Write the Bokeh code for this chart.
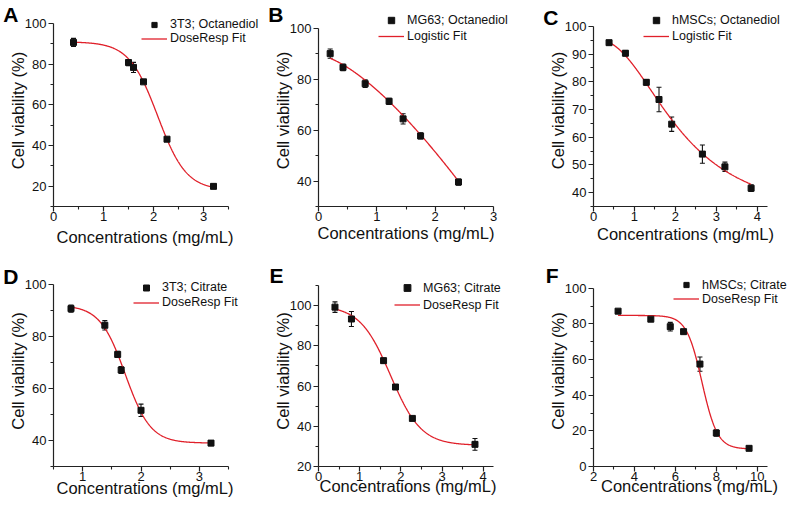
import numpy as np
from bokeh.plotting import figure
from bokeh.layouts import row, column
from bokeh.models import (ColumnDataSource, Whisker, TeeHead, Legend, LegendItem,
                          FixedTicker, Range1d, LinearAxis)
from bokeh.embed import file_html
from bokeh.resources import INLINE

# ---------------- data ----------------
# A: 3T3; Octanediol (DoseResp fit)
a_conc = [0.4, 1.5, 1.6, 1.8, 2.27, 3.2]
a_via = [90.7, 80.8, 78.4, 71.3, 43.1, 19.9]
a_err = [2.0, 1.5, 2.5, 0.8, 0.8, 1.0]
a_fit = dict(top=91.0, bottom=18.0, x0=2.084, hill=1.52)

# B: MG63; Octanediol (Logistic fit)
b_conc = [0.2, 0.42, 0.8, 1.21, 1.45, 1.75, 2.4]
b_via = [90.0, 84.6, 78.2, 71.3, 64.4, 57.7, 39.6]
b_err = [1.8, 1.3, 1.5, 1.2, 2.0, 1.2, 1.2]
b_fit = dict(a1=89.4, a2=-1150.0, x0=20.0, p=1.5)

# C: hMSCs; Octanediol (Logistic fit)
c_conc = [0.38, 0.78, 1.29, 1.6, 1.91, 2.66, 3.21, 3.85]
c_via = [94.1, 90.3, 79.8, 73.6, 64.7, 53.9, 49.3, 41.6]
c_err = [0.8, 1.0, 1.0, 4.4, 2.6, 3.3, 1.7, 1.2]
c_fit = dict(a1=95.5, a2=30.0, x0=2.1, p=2.3)

# D: 3T3; Citrate (DoseResp fit)
d_conc = [0.8, 1.38, 1.6, 1.66, 2.0, 3.2]
d_via = [90.7, 84.3, 73.1, 67.1, 51.6, 39.0]
d_err = [1.4, 1.8, 1.2, 1.3, 2.4, 1.0]
d_fit = dict(top=92.0, bottom=39.0, x0=1.73, hill=2.0)

# E: MG63; Citrate (DoseResp fit)
e_conc = [0.4, 0.8, 1.58, 1.87, 2.28, 3.8]
e_via = [99.2, 93.3, 72.6, 59.5, 43.9, 31.0]
e_err = [2.6, 3.7, 1.2, 1.2, 1.0, 2.9]
e_fit = dict(top=100.0, bottom=30.5, x0=1.75, hill=1.17)

# F: hMSCs; Citrate (DoseResp fit)
f_conc = [3.2, 4.8, 5.75, 6.4, 7.2, 8.0, 9.6]
f_via = [87.2, 82.7, 78.5, 75.7, 57.5, 18.8, 10.2]
f_err = [0.8, 0.8, 2.4, 0.6, 4.0, 1.8, 0.8]
f_fit = dict(top=84.8, bottom=9.8, x0=7.3, hill=1.15)

# axis extents and ticks
a_xb, a_yb = (0, 3.5), (10, 100)
b_xb, b_yb = (0, 3), (30, 100)
c_xb, c_yb = (0, 4.25), (35, 100)
d_xb, d_yb = (0.5, 3.5), (30, 100)
e_xb, e_yb = (0, 4.25), (20, 110)
f_xb, f_yb = (2, 10.5), (0, 100)
a_xticks, a_xminor, a_yticks, a_yminor = [0, 1, 2, 3], [0.5, 1.5, 2.5, 3.5], [20, 40, 60, 80, 100], [10, 30, 50, 70, 90]
b_xticks, b_xminor, b_yticks, b_yminor = [0, 1, 2, 3], [0.5, 1.5, 2.5], [40, 60, 80, 100], [30, 50, 70, 90]
c_xticks, c_xminor, c_yticks, c_yminor = [0, 1, 2, 3, 4], [0.5, 1.5, 2.5, 3.5], [40, 50, 60, 70, 80, 90, 100], [35, 45, 55, 65, 75, 85, 95]
d_xticks, d_xminor, d_yticks, d_yminor = [1, 2, 3], [0.5, 1.5, 2.5, 3.5], [40, 60, 80, 100], [30, 50, 70, 90]
e_xticks, e_xminor, e_yticks, e_yminor = [0, 1, 2, 3, 4], [0.5, 1.5, 2.5, 3.5], [20, 40, 60, 80, 100], [30, 50, 70, 90, 110]
f_xticks, f_xminor, f_yticks, f_yminor = [2, 4, 6, 8, 10], [3, 5, 7, 9], [0, 20, 40, 60, 80, 100], [10, 30, 50, 70, 90]

X_TITLE = "Concentrations (mg/mL)"
Y_TITLE = "Cell viability (%)"
FONT = "Liberation Sans"
RED = "#e0202a"
INK = "#111111"

# page geometry (pixels)
COLS = [(0, 265), (265, 275), (540, 249)]   # (left, width)
ROWS = [(0, 260), (260, 251)]               # (top, height)
BORDER_LEFT = 53


def doseresp(x, top, bottom, x0, hill):
    return bottom + (top - bottom) / (1.0 + 10.0 ** ((x - x0) * hill))


def logistic(x, a1, a2, x0, p):
    return a2 + (a1 - a2) / (1.0 + (x / x0) ** p)


# aw/ah: axis lengths; top: page y of y-axis top; et: frame headroom above it;
# lg: (legend left from y-axis, legend top rel. to y-axis top, row height);
# lu: letter centre above y-axis top; tdx: x-title shift; ts: x-title standoff
panels = [
    dict(letter="A", conc=a_conc, via=a_via, err=a_err, model=doseresp, fit=a_fit,
         series="3T3; Octanediol", fitname="DoseResp Fit", xb=a_xb, yb=a_yb,
         xt=a_xticks, xm=a_xminor, yt=a_yticks, ym=a_yminor, col=0, row=0,
         aw=175, ah=183, top=23, et=9, lg=(88, -6, 13.4), lu=8.7, tdx=4, ts=4),
    dict(letter="B", conc=b_conc, via=b_via, err=b_err, model=logistic, fit=b_fit,
         series="MG63; Octanediol", fitname="Logistic Fit", xb=b_xb, yb=b_yb,
         xt=b_xticks, xm=b_xminor, yt=b_yticks, ym=b_yminor, col=1, row=0,
         aw=175, ah=183, top=27, et=14, lg=(60, -11.4, 16), lu=13.6, tdx=0, ts=0),
    dict(letter="C", conc=c_conc, via=c_via, err=c_err, model=logistic, fit=c_fit,
         series="hMSCs; Octanediol", fitname="Logistic Fit", xb=c_xb, yb=c_yb,
         xt=c_xticks, xm=c_xminor, yt=c_yticks, ym=c_yminor, col=2, row=0,
         aw=174, ah=183, top=23, et=12, lg=(50, -11.2, 15.7), lu=9, tdx=5, ts=1),
    dict(letter="D", conc=d_conc, via=d_via, err=d_err, model=doseresp, fit=d_fit,
         series="3T3; Citrate", fitname="DoseResp Fit", xb=d_xb, yb=d_yb,
         xt=d_xticks, xm=d_xminor, yt=d_yticks, ym=d_yminor, col=0, row=1,
         aw=175, ah=183, top=283, et=9, lg=(80, -3.2, 15), lu=8.2, tdx=4, ts=-5),
    dict(letter="E", conc=e_conc, via=e_via, err=e_err, model=doseresp, fit=e_fit,
         series="MG63; Citrate", fitname="DoseResp Fit", xb=e_xb, yb=e_yb,
         xt=e_xticks, xm=e_xminor, yt=e_yticks, ym=e_yminor, col=1, row=1,
         aw=175, ah=183, top=285, et=10, lg=(76, -4, 16.7), lu=9.9, tdx=2, ts=-7),
    dict(letter="F", conc=f_conc, via=f_via, err=f_err, model=doseresp, fit=f_fit,
         series="hMSCs; Citrate", fitname="DoseResp Fit", xb=f_xb, yb=f_yb,
         xt=f_xticks, xm=f_xminor, yt=f_yticks, ym=f_yminor, col=2, row=1,
         aw=174, ah=180, top=288, et=13, lg=(80, -8.2, 13.3), lu=12.5, tdx=9, ts=-7),
]


def style_axis(ax):
    ax.axis_label_text_font = FONT
    ax.axis_label_text_font_size = "16.5px"
    ax.axis_label_text_font_style = "normal"
    ax.axis_label_text_color = INK
    ax.major_label_text_font = FONT
    ax.major_label_text_font_size = "13px"
    ax.major_label_text_color = INK
    ax.axis_line_color = "#222222"
    ax.axis_line_width = 1.2
    ax.major_tick_line_color = "#222222"
    ax.major_tick_line_width = 1.2
    ax.minor_tick_line_color = "#222222"
    ax.minor_tick_line_width = 1.1
    ax.major_tick_in = 0
    ax.major_tick_out = 5
    ax.minor_tick_in = 0
    ax.minor_tick_out = 3


def text_axis(p, side, value, text, size, bold, standoff):
    ax = LinearAxis(ticker=FixedTicker(ticks=[value], minor_ticks=[]),
                    major_label_overrides={value: text})
    ax.axis_line_color = None
    ax.major_tick_line_color = None
    ax.minor_tick_line_color = None
    ax.major_tick_out = 0
    ax.minor_tick_out = 0
    ax.major_label_standoff = standoff
    ax.major_label_text_font = FONT
    ax.major_label_text_font_style = "bold" if bold else "normal"
    ax.major_label_text_font_size = size
    ax.major_label_text_color = "black" if bold else INK
    p.add_layout(ax, side)


def make_panel(cfg):
    (x0, x1), (y0, y1) = cfg["xb"], cfg["yb"]
    fleft, fw_total = COLS[cfg["col"]]
    rtop, fh_total = ROWS[cfg["row"]]
    frame_w = fw_total - BORDER_LEFT
    bt = cfg["top"] - cfg["et"] - rtop
    bb = rtop + fh_total - (cfg["top"] + cfg["ah"])
    frame_h = fh_total - bt - bb
    xpp = (x1 - x0) / cfg["aw"]
    ypp = (y1 - y0) / cfg["ah"]
    p = figure(width=fw_total, height=fh_total,
               min_border_left=BORDER_LEFT, min_border_right=0,
               min_border_top=bt, min_border_bottom=bb,
               x_range=Range1d(x0, x1 + (frame_w - cfg["aw"]) * xpp),
               y_range=Range1d(y0, y1 + (frame_h - cfg["ah"]) * ypp),
               output_backend="svg", toolbar_location=None, tools="")
    p.outline_line_color = None
    p.grid.visible = False
    p.background_fill_color = "white"
    p.border_fill_color = "white"

    xa, ya = p.xaxis[0], p.yaxis[0]
    for ax, ticks, minor, bnds in ((xa, cfg["xt"], cfg["xm"], cfg["xb"]),
                                   (ya, cfg["yt"], cfg["ym"], cfg["yb"])):
        ax.ticker = FixedTicker(ticks=ticks, minor_ticks=minor)
        ax.bounds = bnds
        style_axis(ax)
    xa.major_label_standoff = 0
    ya.major_label_standoff = 2
    ya.axis_label = Y_TITLE
    ya.axis_label_standoff = -5

    # x-axis title, centred under the drawn axis
    xv = round((x0 + x1) / 2 + cfg["tdx"] * xpp, 4)
    text_axis(p, "below", xv, X_TITLE, "16.5px", False, cfg["ts"])
    # panel letter at the upper left
    lv = round(y1 + cfg["lu"] * ypp, 4)
    text_axis(p, "left", lv, cfg["letter"], "21px", True, -13)

    conc = np.array(cfg["conc"], dtype=float)
    via = np.array(cfg["via"], dtype=float)
    err = np.array(cfg["err"], dtype=float)
    src = ColumnDataSource(dict(x=conc, y=via, lo=via - err, hi=via + err))

    p.add_layout(Whisker(source=src, base="x", lower="lo", upper="hi",
                         line_color=INK, line_width=1.1,
                         upper_head=TeeHead(size=5, line_color=INK, line_width=1.1),
                         lower_head=TeeHead(size=5, line_color=INK, line_width=1.1)))

    fx = np.linspace(conc.min(), conc.max(), 300)
    fy = cfg["model"](fx, **cfg["fit"])
    line_r = p.line(fx, fy, line_color=RED, line_width=1.3)
    pts_r = p.scatter("x", "y", source=src, marker="square", size=6,
                      fill_color=INK, line_color=INK)

    lx, ltop, rowh = cfg["lg"]
    rh = max(int(round(rowh)), 14)
    legend = Legend(items=[LegendItem(label=cfg["series"], renderers=[pts_r]),
                           LegendItem(label=cfg["fitname"], renderers=[line_r])],
                    location=(lx, cfg["ah"] - ltop - 2 * rh))
    legend.glyph_width = 26
    legend.glyph_height = int(round(rowh))
    legend.label_height = int(round(rowh))
    legend.label_standoff = 3
    legend.spacing = 0
    legend.padding = 0
    legend.margin = 0
    legend.border_line_alpha = 0
    legend.background_fill_alpha = 0
    legend.label_text_font = FONT
    legend.label_text_font_size = "12.5px"
    legend.label_text_color = INK
    p.add_layout(legend)
    return p


figs = [make_panel(c) for c in panels]
layout = column(row(*figs[:3], spacing=0), row(*figs[3:], spacing=0), spacing=0)

open("out.html", "w").write(file_html(layout, INLINE))
